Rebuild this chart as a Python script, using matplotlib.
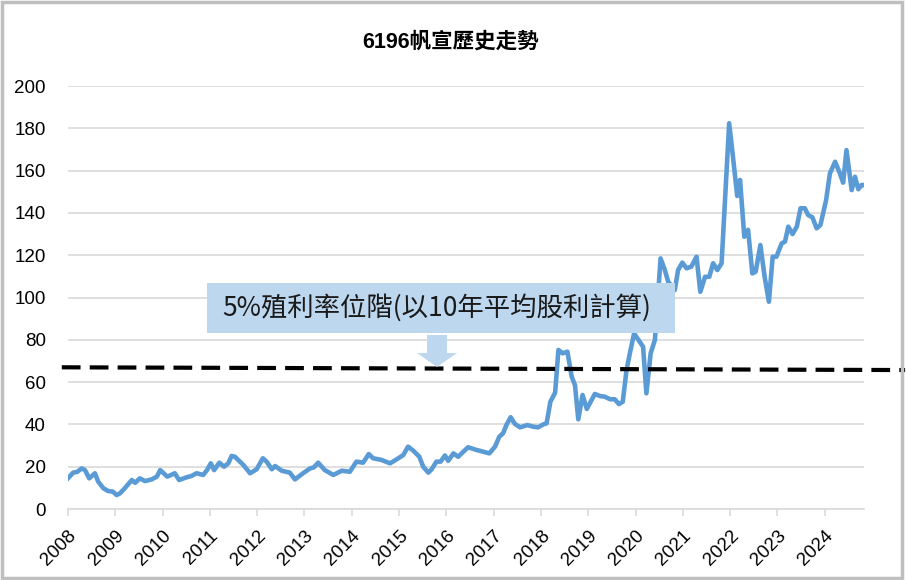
import numpy as np
import matplotlib.pyplot as plt
import matplotlib.transforms as mtransforms
from matplotlib.patches import Rectangle, FancyArrow

plt.rcParams['font.family'] = ['Liberation Sans', 'Noto Sans CJK TC', 'DejaVu Sans']

# price history (decimal year, price)
years = [2008.0, 2008.11, 2008.2, 2008.29, 2008.36, 2008.45, 2008.57, 2008.64, 2008.75, 2008.85,
         2008.95, 2009.03, 2009.1, 2009.2, 2009.35, 2009.42, 2009.52, 2009.63, 2009.77, 2009.88,
         2009.95, 2010.1, 2010.26, 2010.35, 2010.51, 2010.61, 2010.72, 2010.86, 2010.94, 2011.02,
         2011.09, 2011.2, 2011.3, 2011.39, 2011.46, 2011.53, 2011.71, 2011.85, 2011.99, 2012.12,
         2012.2, 2012.31, 2012.38, 2012.52, 2012.69, 2012.8, 2012.97, 2013.12, 2013.2, 2013.29,
         2013.43, 2013.61, 2013.79, 2013.96, 2014.1, 2014.24, 2014.36, 2014.45, 2014.63, 2014.81,
         2014.95, 2015.09, 2015.19, 2015.3, 2015.43, 2015.51, 2015.62, 2015.69, 2015.79, 2015.88,
         2015.97, 2016.04, 2016.15, 2016.25, 2016.36, 2016.46, 2016.64, 2016.78, 2016.91, 2017.03,
         2017.12, 2017.2, 2017.27, 2017.36, 2017.45, 2017.56, 2017.71, 2017.84, 2017.94, 2018.05,
         2018.12, 2018.2, 2018.3, 2018.37, 2018.46, 2018.56, 2018.65, 2018.72, 2018.79, 2018.88,
         2018.97, 2019.07, 2019.14, 2019.25, 2019.35, 2019.46, 2019.56, 2019.65, 2019.73, 2019.81,
         2019.88, 2019.97, 2020.06, 2020.16, 2020.23, 2020.32, 2020.41, 2020.46, 2020.53, 2020.62,
         2020.69, 2020.83, 2020.9, 2020.99, 2021.08, 2021.18, 2021.29, 2021.37, 2021.47, 2021.56,
         2021.64, 2021.73, 2021.82, 2021.98, 2022.06, 2022.15, 2022.21, 2022.3, 2022.38, 2022.47,
         2022.54, 2022.64, 2022.73, 2022.82, 2022.9, 2022.98, 2023.09, 2023.16, 2023.23, 2023.32,
         2023.41, 2023.49, 2023.58, 2023.65, 2023.74, 2023.83, 2023.91, 2024.03, 2024.11, 2024.22,
         2024.32, 2024.39, 2024.46, 2024.57, 2024.64, 2024.71, 2024.78, 2024.83]
prices = [14.5, 17.2, 17.6, 19.2, 18.4, 14.5, 16.9, 12.9, 9.8, 8.5,
          8.2, 6.6, 7.4, 9.8, 13.7, 12.4, 14.5, 13.2, 14.0, 15.3,
          18.4, 15.3, 16.9, 13.7, 15.0, 15.6, 16.9, 16.1, 18.4, 21.6,
          18.4, 21.9, 20.0, 21.6, 25.1, 24.7, 20.8, 16.9, 18.8, 24.0,
          22.4, 18.8, 20.3, 18.1, 17.2, 14.0, 16.9, 19.2, 19.7, 21.9,
          18.4, 16.1, 18.1, 17.6, 22.4, 21.9, 26.0, 24.0, 23.2, 21.6,
          23.5, 25.5, 29.5, 27.6, 24.7, 20.0, 17.2, 18.8, 22.4, 22.4,
          25.3, 22.8, 26.3, 24.7, 27.1, 29.2, 27.9, 27.1, 26.3, 29.5,
          34.2, 35.8, 39.7, 43.4, 40.2, 38.6, 39.7, 38.9, 38.6, 40.0,
          40.5, 50.7, 55.0, 75.2, 73.6, 74.4, 62.6, 58.6, 42.4, 53.9,
          47.3, 51.5, 54.4, 53.4, 53.1, 51.9, 51.9, 49.6, 50.7, 65.7,
          73.6, 83.0, 80.0, 76.7, 54.7, 73.6, 80.0, 95.7, 118.5, 113.0,
          107.5, 103.5, 113.0, 116.5, 113.8, 114.6, 119.3, 102.7, 109.8, 109.8,
          116.2, 113.0, 116.2, 182.4, 166.6, 148.0, 155.6, 128.7, 132.0, 111.4,
          112.2, 124.8, 109.8, 98.0, 119.3, 119.3, 125.6, 126.4, 133.5, 130.0,
          133.5, 142.2, 142.2, 139.0, 137.9, 132.7, 134.3, 146.1, 158.7, 164.2,
          158.7, 154.3, 169.7, 150.8, 157.1, 151.2, 153.2, 153.2]

yield_level = [67.0, 65.7]          # 5% dividend-yield level (start, end)
yield_span = [2007.87, 2025.7]
tick_years = list(range(2008, 2025))
title = "6196帆宣歷史走勢"
note = "5%殖利率位階(以10年平均股利計算)"

fig = plt.figure(figsize=(9.06, 5.8), dpi=100)
ax = fig.add_axes([0.075, 0.1224, 0.8786, 0.7293])

ax.plot(years, prices, color='#5B9BD5', linewidth=3.3, solid_joinstyle='round', zorder=3)

ax.set_xlim(2008, 2024.83)
ax.set_ylim(0, 200)
ax.set_yticks(range(0, 201, 20))
ax.set_xticks(tick_years)
ax.set_xticklabels([str(y) for y in tick_years], rotation=45, ha='right',
                   rotation_mode='anchor', fontsize=13.5)
shift = mtransforms.ScaledTranslation(5 / 100, 0, fig.dpi_scale_trans)
for lab in ax.get_xticklabels():
    lab.set_transform(lab.get_transform() + shift)
ax.tick_params(axis='y', length=0, labelsize=13.5, pad=16)
ax.tick_params(axis='x', length=5, color='#D9D9D9', width=1.2, pad=8)
ax.grid(axis='y', color='#D9D9D9', linewidth=1.2)
ax.set_axisbelow(True)
for s in ['top', 'right', 'left']:
    ax.spines[s].set_visible(False)
ax.spines['bottom'].set_color('#D9D9D9')
ax.spines['bottom'].set_linewidth(1.2)

# dashed yield line extends past the axes
ax.plot(yield_span, yield_level, color='black', linewidth=3, linestyle=(0, (4.5, 2.2)),
        clip_on=False, zorder=4)

# annotation box and arrow (figure coordinates)
fig.patches.append(Rectangle((207 / 906, 1 - 333 / 580), 468 / 906, 50 / 580,
                             transform=fig.transFigure, facecolor='#BDD7EE',
                             edgecolor='none', zorder=5))
fig.text(437 / 906, 1 - 308 / 580, note, fontsize=19, ha='center', va='center',
         family=['Noto Sans CJK TC', 'DejaVu Sans'], color='#1a1a1a', zorder=6)
fig.patches.append(FancyArrow(437 / 906, 1 - 335 / 580, 0, -32 / 580,
                              width=20 / 906, head_width=40 / 906, head_length=14 / 580,
                              length_includes_head=True, transform=fig.transFigure,
                              facecolor='#BDD7EE', edgecolor='none', zorder=5))

fig.text(451 / 906, 1 - 42 / 580, title, fontsize=15.5, fontweight='bold', ha='center',
         va='center', family=['Liberation Sans', 'Noto Sans CJK TC'])

# outer border
fig.patches.append(Rectangle((0.002, 0.003), 0.994, 0.994, transform=fig.transFigure,
                             facecolor='none', edgecolor='#BFBFBF', linewidth=2.5))

plt.savefig('out.png', dpi=100)
